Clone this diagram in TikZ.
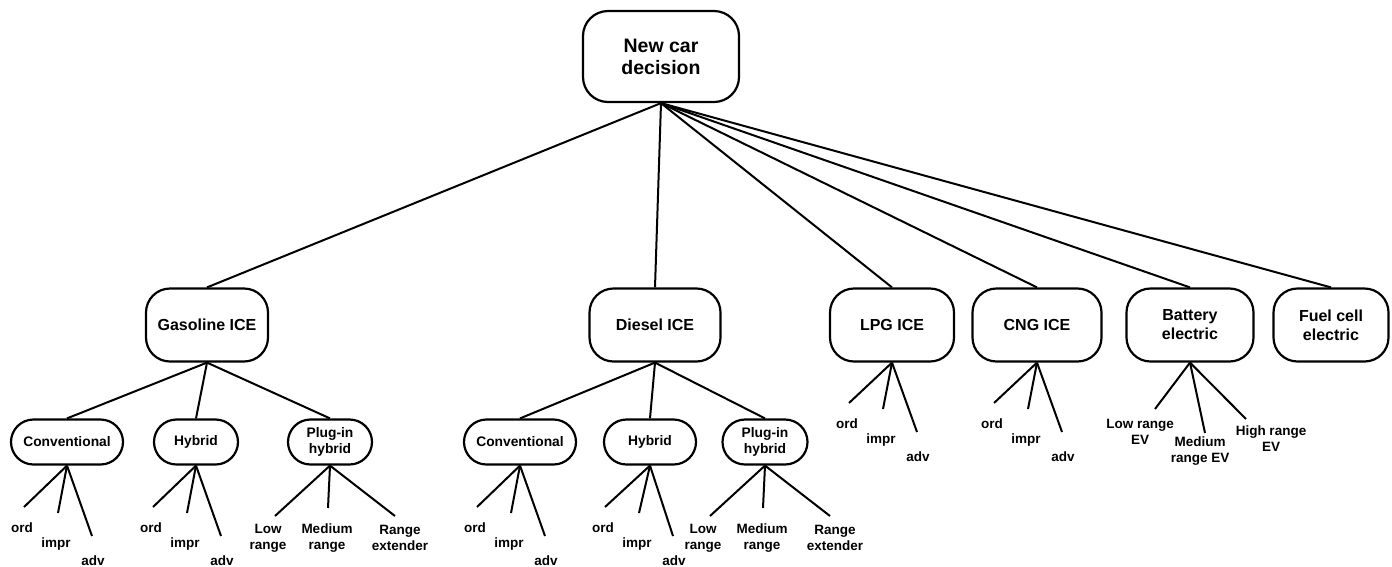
\documentclass[tikz,border=0pt]{standalone}
\usepackage{fontspec}
\setmainfont{Liberation Sans}
\usetikzlibrary{positioning}

\begin{document}
\begin{tikzpicture}[
  x=1pt, y=-1pt,
  every node/.style={font=\bfseries},
  topbox/.style={draw, line width=2.2pt, rounded corners=25pt, align=center,
    minimum width=156pt, minimum height=91pt, font=\fontsize{19.5}{22}\selectfont\bfseries},
  fuelbox/.style={draw, line width=2.2pt, rounded corners=24pt, align=center,
    minimum height=73pt, inner sep=2pt, font=\fontsize{16}{19}\selectfont\bfseries},
  variant/.style={draw, line width=2.2pt, rounded corners=22.5pt, align=center,
    minimum height=45pt, inner sep=1pt, font=\fontsize{13.8}{15.5}\selectfont\bfseries},
  leaf/.style={align=center, inner sep=0pt, font=\fontsize{13.5}{16}\selectfont\bfseries},
  edge/.style={line width=2pt}
]
  \useasboundingbox (0,0) rectangle (1392,566);

  % root
  \node[topbox] (root) at (661,56.5) {New car\\decision};

  % fuel types
  \node[fuelbox, minimum width=122pt] (gas) at (207,325) {Gasoline ICE};
  \node[fuelbox, minimum width=131pt] (die) at (655,325) {Diesel ICE};
  \node[fuelbox, minimum width=124pt] (lpg) at (892,325) {LPG ICE};
  \node[fuelbox, minimum width=129pt] (cng) at (1037,325) {CNG ICE};
  \node[fuelbox, minimum width=127pt] (bat) at (1190,325) {Battery\\electric};
  \node[fuelbox, minimum width=115pt] (fc)  at (1331,325) {Fuel cell\\electric};
  \foreach \f in {gas,die,lpg,cng,bat,fc}
    \draw[edge] (root.south) -- (\f.north);

  % powertrain variants
  \node[variant, minimum width=112pt] (gc) at (67,442)  {Conventional};
  \node[variant, minimum width=84pt]  (gh) at (196,442) {Hybrid};
  \node[variant, minimum width=84pt]  (gp) at (330,442) {Plug-in\\hybrid};
  \node[variant, minimum width=112pt] (dc) at (520,442) {Conventional};
  \node[variant, minimum width=92pt]  (dh) at (650,442) {Hybrid};
  \node[variant, minimum width=85pt]  (dp) at (765,442) {Plug-in\\hybrid};
  \foreach \v in {gc,gh,gp}
    \draw[edge] (gas.south) -- (\v.north);
  \foreach \v in {dc,dh,dp}
    \draw[edge] (die.south) -- (\v.north);

  % technology levels
  \foreach \pn/\px/\py in {gc/67/466, gh/196/466, dc/520/466, dh/648/466,
                           lpg/892/362, cng/1037/362} {
    \foreach \lab/\ex/\ey/\lx/\ly [count=\i] in
        {ord/-43/41/-45/66, impr/-9/47/-11/81, adv/25/70/26/99} {
      \coordinate (\pn-e\i) at (\px+\ex, \py+\ey);
      \node[leaf, anchor=base] (\pn-l\i) at (\px+\lx, \py+\ly) {\lab};
      \draw[edge] (\pn.south) -- (\pn-e\i);
    }
  }

  % plug-in ranges
  \foreach \pn/\px in {gp/330, dp/765} {
    \foreach \lab/\ex/\ey/\lx/\ly [count=\i] in
        {Low\\range/-55/50/-62/72, Medium\\range/-2/42/-3/72,
         Range\\extender/65/50/70/72} {
      \coordinate (\pn-e\i) at (\px+\ex, 466+\ey);
      \node[leaf] (\pn-l\i) at (\px+\lx, 466+\ly) {\lab};
      \draw[edge] (\pn.south) -- (\pn-e\i);
    }
  }

  % battery ranges
  \coordinate (bat-e1) at (1155,409);
  \coordinate (bat-e2) at (1205,433);
  \coordinate (bat-e3) at (1246,419);
  \node[leaf] (bat-l1) at (1140,432) {Low range\\EV};
  \node[leaf] (bat-l2) at (1200,451) {Medium\\range EV};
  \node[leaf] (bat-l3) at (1271,439) {High range\\EV};
  \foreach \i in {1,2,3}
    \draw[edge] (bat.south) -- (bat-e\i);
\end{tikzpicture}
\end{document}
